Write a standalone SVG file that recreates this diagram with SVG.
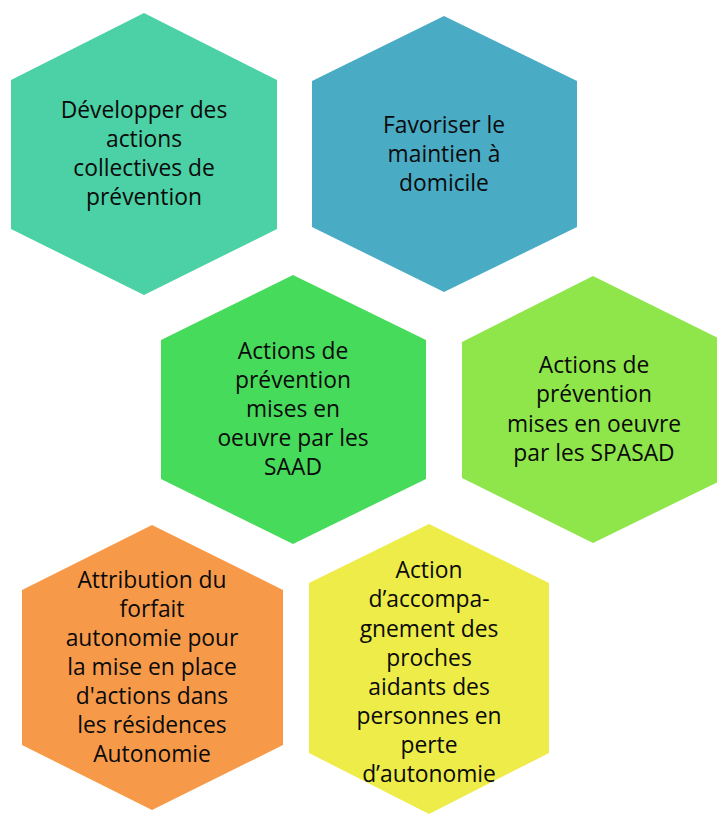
<svg xmlns="http://www.w3.org/2000/svg" width="717" height="816" viewBox="0 0 717 816">
<style>
text{font-family:"Open Sans","Liberation Sans",sans-serif;font-size:22.8px;fill:#0a0a0a;text-anchor:middle}
</style>
<rect width="717" height="816" fill="#fff"/>
<g id="n1"><polygon points="144,13 277,80 277,229 144,295 11,229 11,80" fill="#4BD1A5"/>
<text x="144"><tspan x="144" y="118">Développer des</tspan><tspan x="144" y="147">actions</tspan><tspan x="144" y="176">collectives de</tspan><tspan x="144" y="205">prévention</tspan></text></g>
<g id="n2"><polygon points="444,16 577,81 577,227 444,292 312,227 312,81" fill="#4AABC5"/>
<text><tspan x="444" y="133">Favoriser le</tspan><tspan x="444" y="162">maintien à</tspan><tspan x="444" y="191">domicile</tspan></text></g>
<g id="n3"><polygon points="293,275 426,340 426,479 293,544 161,479 161,340" fill="#47DB5C"/>
<text><tspan x="293" y="359">Actions de</tspan><tspan x="293" y="388">prévention</tspan><tspan x="293" y="417">mises en</tspan><tspan x="293" y="446">oeuvre par les</tspan><tspan x="293" y="475">SAAD</tspan></text></g>
<g id="n4"><polygon points="593,276 726,342 726,478 593,543 462,478 462,342" fill="#8EE64A"/>
<text><tspan x="594" y="373">Actions de</tspan><tspan x="594" y="402">prévention</tspan><tspan x="594" y="432">mises en oeuvre</tspan><tspan x="594" y="461">par les SPASAD</tspan></text></g>
<g id="n5"><polygon points="152,525 283,590 283,745 152,810 22,745 22,590" fill="#F69A4A"/>
<text><tspan x="152" y="588">Attribution du</tspan><tspan x="152" y="617">forfait</tspan><tspan x="152" y="646">autonomie pour</tspan><tspan x="152" y="675">la mise en place</tspan><tspan x="152" y="704">d'actions dans</tspan><tspan x="152" y="733">les résidences</tspan><tspan x="152" y="762">Autonomie</tspan></text></g>
<g id="n6"><polygon points="429,524 549,583 549,753 429,814 309,753 309,583" fill="#EDEC48"/>
<text><tspan x="429" y="578">Action</tspan><tspan x="429" y="607">d’accompa-</tspan><tspan x="429" y="637">gnement des</tspan><tspan x="429" y="666">proches</tspan><tspan x="429" y="695">aidants des</tspan><tspan x="429" y="724">personnes en</tspan><tspan x="429" y="753">perte</tspan><tspan x="429" y="782">d’autonomie</tspan></text></g>
<g id="connectors"/>
</svg>
